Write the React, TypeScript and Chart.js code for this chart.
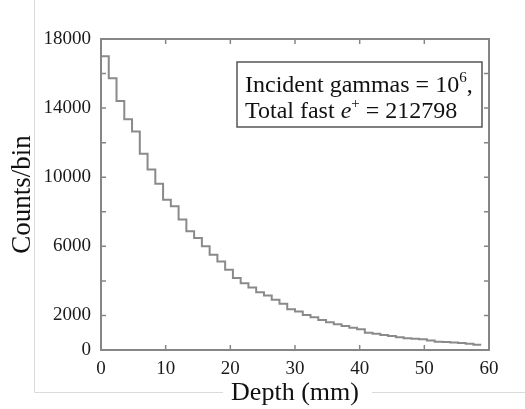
import { useEffect, useRef } from 'react';
import { Chart, registerables } from 'chart.js';

Chart.register(...registerables);

const binWidthMm = 1.2;
const counts = [
  17000, 15735, 14417, 13354, 12640, 11362, 10451, 9620, 8700, 8320,
  7548, 6869, 6485, 5998, 5516, 5127, 4645, 4163, 3867, 3617,
  3344, 3153, 2903, 2671, 2357, 2224, 2032, 1893, 1742, 1602,
  1486, 1393, 1295, 1196, 1004, 946, 871, 813, 732, 673,
  656, 615, 557, 482, 464, 441, 406, 366, 308,
];
const xTicks = [0, 10, 20, 30, 40, 50, 60];
const yLabelTicks = [0, 2000, 6000, 10000, 14000, 18000];
const xTitle = 'Depth (mm)';
const yTitle = 'Counts/bin';
const legendLine1 = ['Incident gammas = 10', '6', ','];
const legendLine2 = ['Total fast ', 'e', '+', ' = 212798'];

const FONT = "'Liberation Serif', 'Times New Roman', serif";
const AXIS = '#868686';

type Run = { text: string; size: number; italic?: boolean; dy?: number };

function drawRuns(ctx: CanvasRenderingContext2D, x: number, y: number, runs: Run[]) {
  let cx = x;
  for (const r of runs) {
    ctx.font = `${r.italic ? 'italic ' : ''}${r.size}px ${FONT}`;
    ctx.fillText(r.text, cx, y + (r.dy || 0));
    cx += ctx.measureText(r.text).width;
  }
}

export default function App() {
  const ref = useRef<HTMLCanvasElement>(null);

  useEffect(() => {
    const canvas = ref.current!;
    const points = counts.flatMap((v, i) => [
      { x: i * binWidthMm, y: v },
      { x: (i + 1) * binWidthMm, y: v },
    ]);

    const framePlugin = {
      id: 'framePlugin',
      beforeDraw(chart: any) {
        const ctx: CanvasRenderingContext2D = chart.ctx;
        ctx.save();
        ctx.fillStyle = '#fff';
        ctx.fillRect(0, 0, chart.width, chart.height);
        ctx.strokeStyle = '#dadada';
        ctx.lineWidth = 1;
        ctx.beginPath();
        ctx.moveTo(34.5, 0);
        ctx.lineTo(34.5, 392.5);
        ctx.lineTo(223, 392.5);
        ctx.moveTo(372, 392.5);
        ctx.lineTo(chart.width, 392.5);
        ctx.stroke();
        ctx.restore();
      },
      afterDraw(chart: any) {
        const ctx: CanvasRenderingContext2D = chart.ctx;
        const a = chart.chartArea;
        const xs = chart.scales.x;
        const ys = chart.scales.y;
        ctx.save();
        ctx.strokeStyle = AXIS;
        ctx.lineWidth = 2;
        ctx.strokeRect(a.left, a.top, a.right - a.left, a.bottom - a.top);
        const tl = 5;
        ctx.lineWidth = 1.5;
        ctx.beginPath();
        xs.ticks.forEach((t: any) => {
          const px = xs.getPixelForValue(t.value);
          if (px <= a.left + 1 || px >= a.right - 1) return;
          ctx.moveTo(px, a.bottom);
          ctx.lineTo(px, a.bottom - tl);
          ctx.moveTo(px, a.top);
          ctx.lineTo(px, a.top + tl);
        });
        ys.ticks.forEach((t: any) => {
          const py = ys.getPixelForValue(t.value);
          if (py <= a.top + 1 || py >= a.bottom - 1) return;
          ctx.moveTo(a.left, py);
          ctx.lineTo(a.left + tl, py);
          ctx.moveTo(a.right, py);
          ctx.lineTo(a.right - tl, py);
        });
        ctx.stroke();

        // annotation box
        const bx = a.left + 136;
        const by = a.top + 23;
        const bw = 245;
        const bh = 65;
        ctx.fillStyle = '#fff';
        ctx.fillRect(bx, by, bw, bh);
        ctx.strokeStyle = '#555';
        ctx.lineWidth = 1.5;
        ctx.strokeRect(bx, by, bw, bh);
        ctx.fillStyle = '#111';
        ctx.textBaseline = 'alphabetic';
        ctx.textAlign = 'left';
        drawRuns(ctx, bx + 8, by + 30, [
          { text: legendLine1[0], size: 24 },
          { text: legendLine1[1], size: 15, dy: -10 },
          { text: legendLine1[2], size: 24 },
        ]);
        drawRuns(ctx, bx + 8, by + 56, [
          { text: legendLine2[0], size: 24 },
          { text: legendLine2[1], size: 24, italic: true },
          { text: legendLine2[2], size: 15, dy: -10 },
          { text: legendLine2[3], size: 24 },
        ]);
        ctx.restore();
      },
    };

    const chart = new Chart(canvas, {
      type: 'line',
      data: {
        datasets: [
          {
            data: points,
            borderColor: '#8a8a8a',
            borderWidth: 2,
            pointRadius: 0,
            fill: false,
            tension: 0,
          },
        ],
      },
      options: {
        responsive: false,
        animation: false,
        layout: { padding: { top: 39, right: 36, left: 0, bottom: 0 } },
        plugins: { legend: { display: false }, tooltip: { enabled: false } },
        scales: {
          x: {
            type: 'linear',
            min: 0,
            max: 60,
            afterBuildTicks: (s: any) => {
              s.ticks = xTicks.map((v) => ({ value: v }));
            },
            grid: { display: false, drawTicks: false },
            border: { display: false },
            ticks: {
              font: { family: FONT, size: 19 },
              color: '#1a1a1a',
              padding: 8,
              maxRotation: 0,
              autoSkip: false,
            },
            title: {
              display: true,
              text: xTitle,
              font: { family: FONT, size: 26 },
              color: '#111',
              padding: { top: 0, bottom: 0 },
            },
            afterFit: (s: any) => {
              s.height = 59;
            },
          },
          y: {
            type: 'linear',
            min: 0,
            max: 18000,
            ticks: {
              stepSize: 2000,
              autoSkip: false,
              callback: (v: any) => (yLabelTicks.includes(Number(v)) ? String(v) : ''),
              font: { family: FONT, size: 19 },
              color: '#1a1a1a',
              padding: 10,
            },
            grid: { display: false, drawTicks: false },
            border: { display: false },
            title: {
              display: true,
              text: yTitle,
              font: { family: FONT, size: 27 },
              color: '#111',
              padding: { top: 7, bottom: 0 },
            },
            afterFit: (s: any) => {
              s.width = 101;
            },
          },
        },
      },
      plugins: [framePlugin],
    } as any);

    return () => chart.destroy();
  }, []);

  return (
    <div style={{ position: 'fixed', left: 0, top: 0, width: 525, height: 409, background: '#fff' }}>
      <canvas ref={ref} width={525} height={409} />
    </div>
  );
}
